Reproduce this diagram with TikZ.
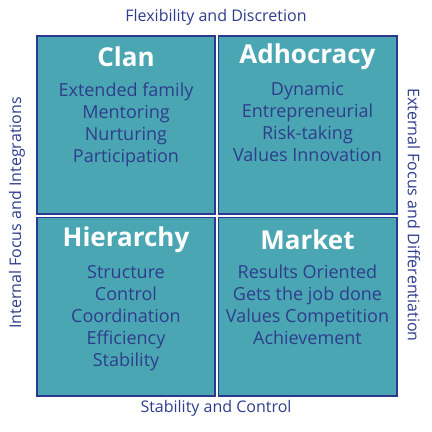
\documentclass[tikz,border=0pt]{standalone}
\usepackage{fontspec}
\setmainfont{Open Sans}
\definecolor{teal1}{HTML}{4BA6B3}
\definecolor{navy}{HTML}{2B3990}
\definecolor{txt}{HTML}{2E3D8C}
\begin{document}
\begin{tikzpicture}[x=1pt,y=-1pt,
  quad/.style={draw=navy,line width=1.8pt,fill=teal1},
  title/.style={text=white,font=\fontsize{26}{30}\selectfont\bfseries,anchor=center},
  body/.style={text=txt,font=\fontsize{18}{22}\selectfont,align=center,anchor=north},
  axis/.style={text=txt,font=\fontsize{16}{18}\selectfont,anchor=center}]
\useasboundingbox (0,0) rectangle (432,432);
\path[quad] (36.9,35.9) rectangle (215,214.3);
\path[quad] (218.4,35.9) rectangle (396.6,214.3);
\path[quad] (36.9,217.4) rectangle (215,395.6);
\path[quad] (218.4,217.4) rectangle (396.6,395.6);
\node[title] (clan) at (126,56.5) {Clan};
\node[title] (adho) at (307.5,56.5) {Adhocracy};
\node[title] (hier) at (126,239.5) {Hierarchy};
\node[title] (mark) at (307.5,239.5) {Market};
\node[body] (clanb) at (126,79) {Extended family\\Mentoring\\Nurturing\\Participation};
\node[body] (adhob) at (307.5,79) {Dynamic\\Entrepreneurial\\Risk-taking\\Values Innovation};
\node[body] (hierb) at (126,261.5) {Structure\\Control\\Coordination\\Efficiency\\Stability};
\node[body] (markb) at (307.5,261.5) {Results Oriented\\Gets the job done\\Values Competition\\Achievement};
\node[axis] (top) at (216,17) {Flexibility and Discretion};
\node[axis] (bot) at (216,408) {Stability and Control};
\node[axis,rotate=90] (left) at (17,213) {Internal Focus and Integrations};
\node[axis,rotate=-90] (right) at (414,215) {External Focus and Differentiation};
\end{tikzpicture}
\end{document}
